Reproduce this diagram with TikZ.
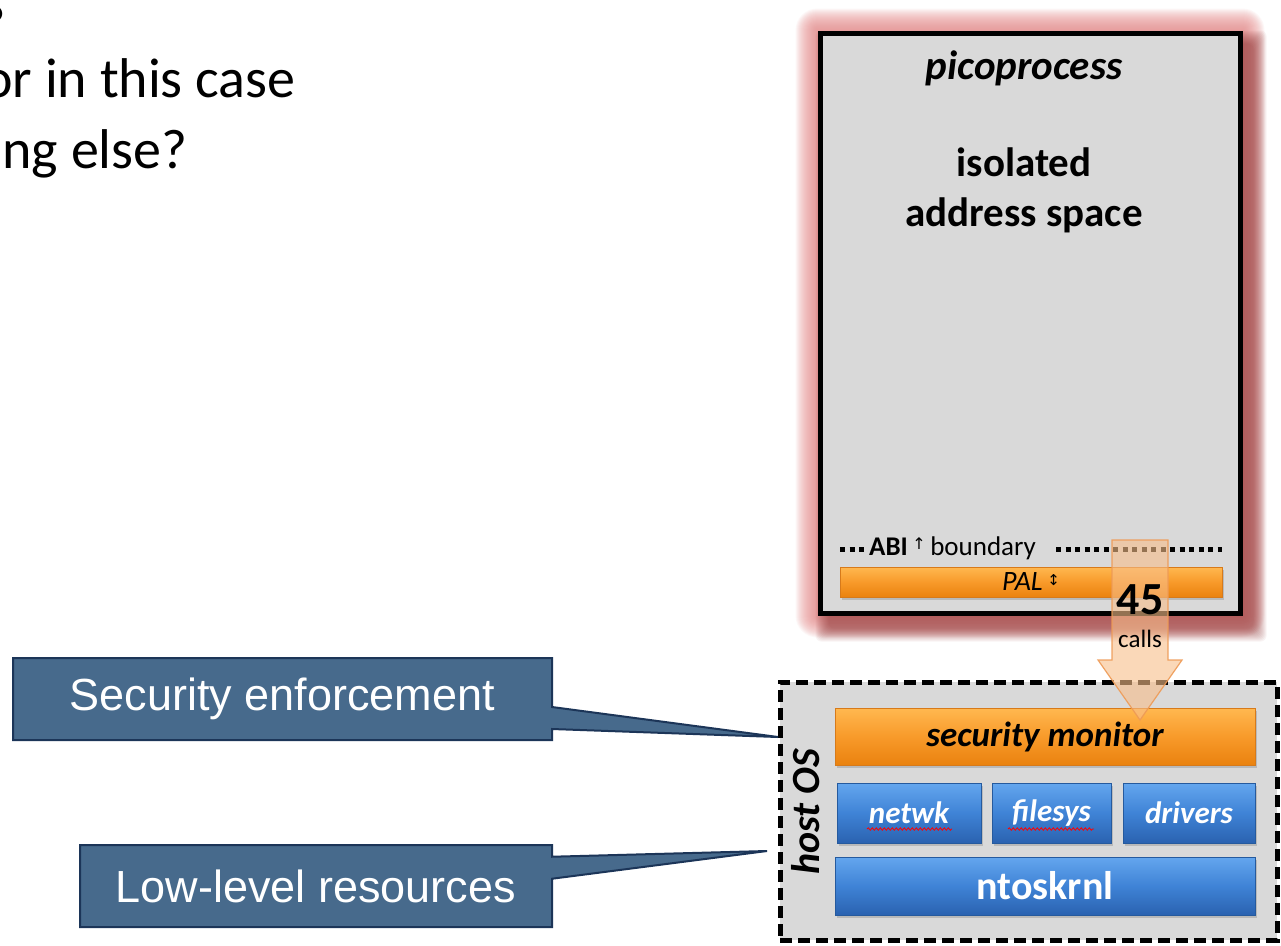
\documentclass[tikz,border=0pt]{standalone}
\usepackage{fontspec}
\setmainfont{Carlito}
\newfontfamily\arialfont{Liberation Sans}
\newfontfamily\symfont{DejaVu Sans}
\usetikzlibrary{shapes.callouts,shadows,decorations.pathmorphing}
\definecolor{boxgray}{HTML}{D9D9D9}
\definecolor{glowc}{HTML}{E88A8A}
\definecolor{shadc}{HTML}{8E3030}
\definecolor{orangetop}{HTML}{FFB850}
\definecolor{orangemid}{HTML}{F89A2A}
\definecolor{orangebot}{HTML}{EA820F}
\definecolor{orangeedge}{HTML}{D77A1A}
\definecolor{bluetop}{HTML}{64A6EE}
\definecolor{bluemid}{HTML}{3F83D6}
\definecolor{bluebot}{HTML}{2A62B0}
\definecolor{blueedge}{HTML}{255A9E}
\definecolor{calloutfill}{HTML}{476A8C}
\definecolor{calloutedge}{HTML}{1C3558}
\definecolor{arrowfill}{HTML}{F8BE8A}
\definecolor{arrowedge}{HTML}{EE9A55}
\begin{document}
\begin{tikzpicture}[x=1pt,y=-1pt,
  picobox/.style={rectangle, draw=black, line width=5pt, fill=boxgray, inner sep=0pt},
  hostbox/.style={rectangle, draw=black, line width=5pt, fill=boxgray, inner sep=0pt, dash pattern=on 12pt off 6pt},
  orangebar/.style={rectangle, inner sep=0pt, top color=orangetop, bottom color=orangebot, middle color=orangemid, draw=orangeedge, line width=0.8pt, drop shadow={shadow xshift=2pt, shadow yshift=-3pt, opacity=0.35}},
  bluebar/.style={rectangle, inner sep=0pt, top color=bluetop, bottom color=bluebot, middle color=bluemid, draw=blueedge, line width=0.8pt, text=white, drop shadow={shadow xshift=2pt, shadow yshift=-3pt, opacity=0.35}},
  callbox/.style={rectangle callout, fill=calloutfill, draw=calloutedge, line width=2pt, text=white, inner sep=0pt, font=\arialfont\fontsize{45}{50}\selectfont, callout pointer width=22pt},
  abidots/.style={line width=5pt, dash pattern=on 5pt off 4.5pt},
  squiggle/.style={red, line width=0.8pt, decorate, decoration={snake, amplitude=1.2pt, segment length=4pt}}
]
\useasboundingbox (0,0) rectangle (1281,945);
\fill[white] (0,0) rectangle (1281,945);

% slide text
\node[anchor=base, font=\bfseries\fontsize{110}{110}\selectfont] (q) at (-3,21) {?};
\node[anchor=base east, font=\fontsize{56}{60}\selectfont] (l1) at (299,97) {or in this case};
\node[anchor=base east, font=\fontsize{56}{60}\selectfont] (l2) at (191,168) {ing else?};

% picoprocess glow and shadow
\node[picobox, minimum width=420pt, minimum height=580pt] (pico) at (1030,323) {};
\foreach \i in {1,...,22} {
  \fill[glowc, opacity=0.065, rounded corners=\i pt] ([xshift=-\i pt, yshift=\i pt]pico.north west) rectangle ([xshift=\i pt, yshift=-\i pt]pico.south east);
}
\foreach \i in {1,...,14} {
  \fill[shadc, opacity=0.055, rounded corners=6pt] ([xshift={12-\i}, yshift={-14+\i}]pico.north west) rectangle ([xshift={10+\i}, yshift={-12-\i}]pico.south east);
}
\node[picobox, minimum width=420pt, minimum height=580pt] (pico) at (1030,323) {};
\node[font=\bfseries\itshape\fontsize{41}{48}\selectfont] (title) at (1024,68) {picoprocess};
\node[font=\bfseries\fontsize{41}{50}\selectfont, align=center] (iso) at (1024,190) {isolated\\address space};

\node[anchor=base west, inner sep=0pt, font=\fontsize{27}{30}\selectfont] (abi) at (869,555) {\textbf{ABI}\,\raisebox{0.45ex}{\symfont\fontsize{16}{16}\selectfont ↑}\,boundary};
\draw[abidots] (840,549) -- (864,549);
\draw[abidots] (1056,549) -- (1222,549);

\node[orangebar, minimum width=382pt, minimum height=30pt, font=\itshape\fontsize{28}{30}\selectfont] (pal) at (1031,582) {PAL\,\raisebox{0.4ex}{\symfont\fontsize{15}{15}\selectfont ↕}};

% host OS
\node[hostbox, minimum width=497pt, minimum height=258pt] (host) at (1028.5,811) {};
\node[rotate=90, font=\bfseries\itshape\fontsize{40}{44}\selectfont] (hostlbl) at (806,812) {host OS};
\node[orangebar, minimum width=420pt, minimum height=57pt, font=\bfseries\itshape\fontsize{35}{40}\selectfont] (secmon) at (1045,736.5) {security monitor};
\node[bluebar, minimum width=144pt, minimum height=60pt, font=\bfseries\itshape\fontsize{31}{36}\selectfont] (netwk) at (909,813) {netwk};
\node[bluebar, minimum width=119pt, minimum height=60pt, font=\bfseries\itshape\fontsize{31}{36}\selectfont] (filesys) at (1051.5,813) {filesys};
\node[bluebar, minimum width=132pt, minimum height=60pt, font=\bfseries\itshape\fontsize{31}{36}\selectfont] (drivers) at (1189,813) {drivers};
\node[bluebar, minimum width=420pt, minimum height=58pt, font=\bfseries\fontsize{40}{44}\selectfont] (ntos) at (1045,886) {ntoskrnl};
\draw[squiggle] (867,829) -- (952,829);
\draw[squiggle] (1008,829) -- (1094,829);

% 45 calls arrow
\coordinate (a1) at (1112,540);
\coordinate (a2) at (1168,540);
\coordinate (a3) at (1168,660);
\coordinate (a4) at (1182,660);
\coordinate (tip) at (1140,720);
\coordinate (a6) at (1098,660);
\coordinate (a7) at (1112,660);
\fill[arrowfill, opacity=0.6] (a1) -- (a2) -- (a3) -- (a4) -- (tip) -- (a6) -- (a7) -- cycle;
\draw[arrowedge, line width=1.2pt, opacity=0.9] (a1) -- (a2) -- (a3) -- (a4) -- (tip) -- (a6) -- (a7) -- cycle;
\node[font=\bfseries\fontsize{46}{48}\selectfont] (n45) at (1140,600) {45};
\node[font=\fontsize{25}{28}\selectfont] (calls) at (1140,639) {calls};

% callouts
\coordinate (tipA) at (778,737);
\coordinate (tipB) at (767,851);
\node[callbox, minimum width=539pt, minimum height=82pt, callout absolute pointer={(tipA)}] (secenf) at (282.5,699) {Security enforcement};
\node[callbox, minimum width=472pt, minimum height=82pt, callout absolute pointer={(tipB)}] (lowlev) at (316,886) {Low-level resources};
\end{tikzpicture}
\end{document}
